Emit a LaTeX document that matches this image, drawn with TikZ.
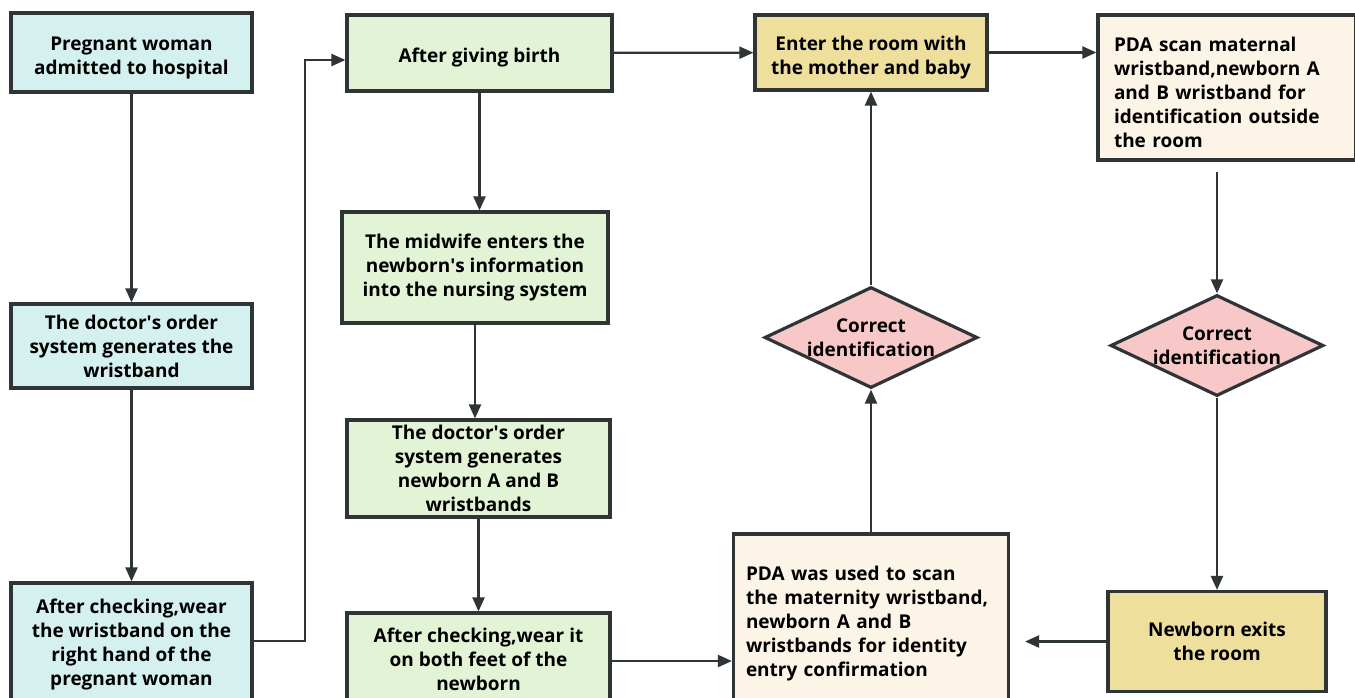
\documentclass[tikz,border=0pt]{standalone}
\usepackage{fontspec}
\setmainfont{Open Sans}
\usepackage{tikz}
\usetikzlibrary{shapes.geometric,arrows.meta,positioning}
\usepackage{xcolor}

\definecolor{cyanfill}{HTML}{D5F1EF}
\definecolor{greenfill}{HTML}{E3F3D6}
\definecolor{yellowfill}{HTML}{EEDF9C}
\definecolor{creamfill}{HTML}{FBF4E7}
\definecolor{pinkfill}{HTML}{F8C7C8}
\definecolor{edgegray}{HTML}{2F3436}

\newcommand{\apos}{\textquotesingle}
\newcommand{\strutup}{\rule{0pt}{24.5pt}}

\tikzset{
    boxfont/.style={font=\fontsize{19}{24}\selectfont\bfseries},
    box/.style={draw=edgegray, line width=3.2pt, rectangle, align=center,
        boxfont, inner sep=0pt},
    lowered/.style={execute at begin node={\strutup}},
    cyanbox/.style={box, fill=cyanfill},
    greenbox/.style={box, fill=greenfill},
    yellowbox/.style={box, fill=yellowfill},
    creambox/.style={box, fill=creamfill},
    checkbox/.style={draw=edgegray, line width=3.2pt, diamond, fill=pinkfill,
        inner sep=0pt, minimum width=213pt, minimum height=101pt, aspect=2.1},
    arr/.style={draw=edgegray, line width=2.2pt, -{Triangle[length=14pt,width=12pt]}}
}

\begin{document}
\begin{tikzpicture}[x=1pt,y=-1pt]
    \useasboundingbox (0,0) rectangle (1355,697);
    \fill[white] (0,0) rectangle (1355,697);

    % first column: admission
    \node[cyanbox, minimum width=241pt, minimum height=79pt] (admit) at (131.5,52.5)
        {\strutup Pregnant woman\\admitted to hospital};
    \node[cyanbox, minimum width=241pt, minimum height=84pt] (order) at (131.5,346)
        {The doctor\apos s order\\system generates the\\wristband};
    \node[cyanbox, minimum width=241pt, minimum height=124pt] (wearhand) at (131.5,645)
        {After checking,wear\\the wristband on the\\right hand of the\\pregnant woman};

    % second column: birth
    \node[greenbox, lowered, minimum width=265pt, minimum height=76pt] (birth) at (479.5,53)
        {After giving birth};
    \node[greenbox, minimum width=266pt, minimum height=111pt] (midwife) at (475,267.5)
        {The midwife enters the\\newborn\apos s information\\into the nursing system};
    \node[greenbox, minimum width=263pt, minimum height=97pt] (neworder) at (478.5,468.5)
        {The doctor\apos s order\\system generates\\newborn A and B\\wristbands};
    \node[greenbox, minimum width=263pt, minimum height=92pt] (wearfeet) at (478.5,659)
        {After checking,wear it\\on both feet of the\\newborn};

    % third column: ward entry
    \node[yellowbox, minimum width=232pt, minimum height=75pt] (enter) at (871,52.5)
        {\strutup Enter the room with\\the mother and baby};
    \node[checkbox, label={[boxfont, align=center]center:Correct\\identification}]
        (checkin) at (871,337.5) {};
    \node[creambox, lowered, minimum width=275pt, minimum height=170pt, align=left, text width=250pt] (pdain) at (871,619)
        {PDA was used to scan\\the maternity wristband,\\newborn A and B\\wristbands for identity\\entry confirmation};

    % fourth column: leaving the room
    \node[creambox, lowered, minimum width=258pt, minimum height=145pt, align=left, text width=226pt] (pdaout) at (1227,87.5)
        {PDA scan maternal\\wristband,newborn A\\and B wristband for\\identification outside\\the room};
    \node[checkbox, label={[boxfont, align=center]center:Correct\\identification}]
        (checkout) at (1217,345.5) {};
    \node[yellowbox, minimum width=218pt, minimum height=100pt] (exit) at (1217,641.5)
        {Newborn exits\\the room};

    % connectors
    \draw[arr] (admit) -- (order);
    \draw[arr] (order) -- (wearhand);
    \draw[arr] ([yshift=4pt]wearhand.east) -- ++(51,0) |- ([yshift=-7pt]birth.west);
    \draw[arr] (birth.south) -- (birth.south |- midwife.north);
    \draw[arr] (midwife.south) -- (midwife.south |- neworder.north);
    \draw[arr] (neworder) -- (wearfeet);
    \draw[arr] (birth) -- (enter);
    \draw[arr] (enter) -- (pdaout.west |- enter.east);
    \draw[arr] ([yshift=-2pt]wearfeet.east) -- ([yshift=-2pt]wearfeet.east -| pdain.west);
    \draw[arr] (pdain.north) -- (checkin.south);
    \draw[arr] (checkin.north) -- (enter.south);
    \draw[arr, shorten <=10pt] (pdaout.south -| checkout.north) -- (checkout.north);
    \draw[arr] (checkout.south) -- (exit.north);
    \draw[arr, shorten >=15pt] (exit.west) -- (exit.west -| pdain.east);
\end{tikzpicture}
\end{document}
